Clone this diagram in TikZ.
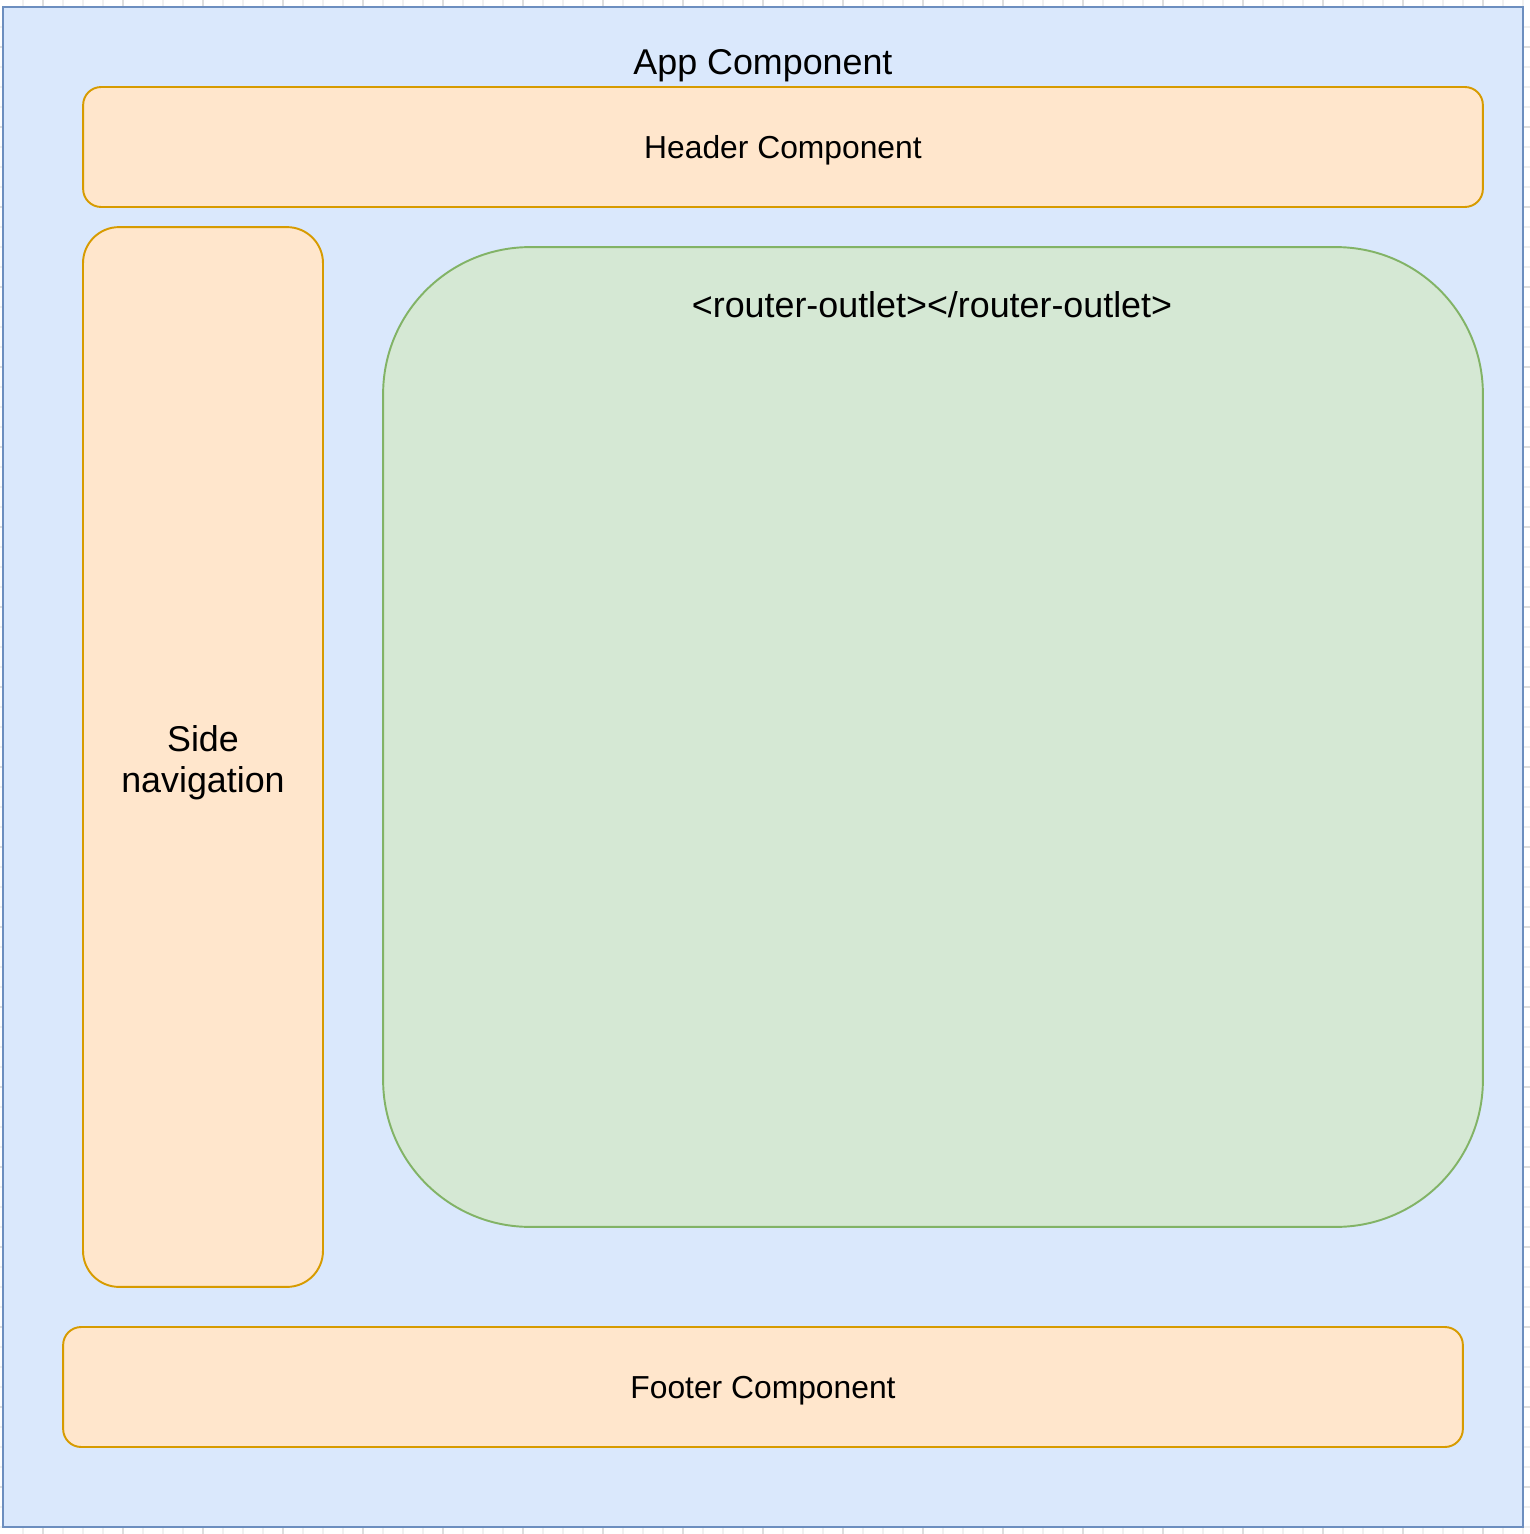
\documentclass[tikz,border=0pt]{standalone}
\usepackage{fontspec}
\setmainfont{Liberation Sans}
\usetikzlibrary{positioning}
\definecolor{appfill}{HTML}{DAE8FC}
\definecolor{appline}{HTML}{6C8EBF}
\definecolor{partfill}{HTML}{FFE6CC}
\definecolor{partline}{HTML}{D79B00}
\definecolor{outletfill}{HTML}{D5E8D4}
\definecolor{outletline}{HTML}{82B366}

\begin{document}
\begin{tikzpicture}[x=0.02cm, y=-0.02cm,
  minorgrid/.style={draw=black!6, line width=0.6pt},
  majorgrid/.style={draw=black!13, line width=0.6pt},
  appbox/.style={draw=appline, fill=appfill, line width=1.2pt, minimum width=30.4cm, minimum height=30.4cm, inner sep=0pt},
  partbox/.style={draw=partline, fill=partfill, line width=1.1pt, inner sep=0pt, text depth=0pt, align=center, font=\fontsize{18.1}{21}\selectfont},
  outletbox/.style={draw=outletline, fill=outletfill, line width=1.1pt, inner sep=0pt, rounded corners=2.94cm, minimum width=22cm, minimum height=19.6cm},
  bigtext/.style={inner sep=0pt, text depth=0pt, align=center, font=\fontsize{20.4}{23.8}\selectfont}]
  \useasboundingbox (0,0) rectangle (1530,1534);

  % background grid
  \foreach \gx in {23,43,...,1523} \draw[minorgrid] (\gx,0) -- (\gx,1534);
  \foreach \gy in {27,47,...,1527} \draw[minorgrid] (0,\gy) -- (1530,\gy);
  \foreach \gx in {43,123,...,1523} \draw[majorgrid] (\gx,0) -- (\gx,1534);
  \foreach \gy in {47,127,...,1527} \draw[majorgrid] (0,\gy) -- (1530,\gy);

  \node[appbox] (app) at (763,767) {};
  \node[bigtext] (applabel) at (763,62) {App Component};

  \node[partbox, rounded corners=0.36cm, minimum width=28cm, minimum height=2.4cm] (header) at (783,147) {Header Component};
  \node[partbox, rounded corners=0.72cm, minimum width=4.8cm, minimum height=21.2cm] (sidenav) at (203,757) {};
  \node[bigtext] (sidelabel) at (203,759) {Side\\navigation};

  \node[outletbox] (outlet) at (933,737) {};
  \node[bigtext] (outletlabel) at (932,305) {<router-outlet></router-outlet>};

  \node[partbox, rounded corners=0.36cm, minimum width=28cm, minimum height=2.4cm] (footer) at (763,1387) {Footer Component};
\end{tikzpicture}
\end{document}
